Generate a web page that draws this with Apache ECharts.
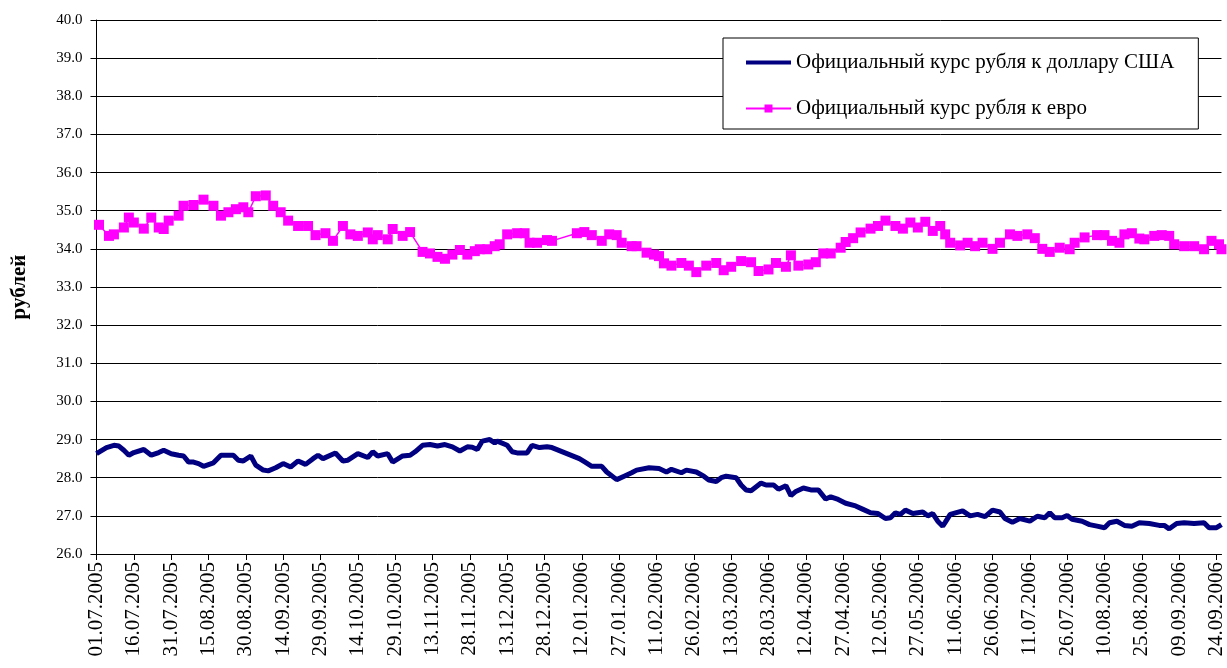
<!DOCTYPE html>
<html>
<head>
<meta charset="utf-8">
<title>Курс рубля</title>
<script src="https://cdn.jsdelivr.net/npm/echarts@6/dist/echarts.min.js"></script>
<style>
  html, body { margin: 0; padding: 0; background: #fff; }
  #chart { width: 1227px; height: 668px; }
</style>
</head>
<body>
<div id="chart"></div>
<script>
// date range of the x axis (daily categories)
const startDate = '01.07.2005'
const endDate = '26.09.2006'

const usdName = 'Официальный курс рубля к доллару США'
const eurName = 'Официальный курс рубля к евро'

// USD
const usdDates = [
  '01.07.2005', '05.07.2005', '08.07.2005', '10.07.2005', '12.07.2005', '14.07.2005', '16.07.2005', '20.07.2005',
  '23.07.2005', '26.07.2005', '28.07.2005', '31.07.2005', '03.08.2005', '05.08.2005', '07.08.2005', '09.08.2005',
  '11.08.2005', '13.08.2005', '17.08.2005', '20.08.2005', '25.08.2005', '27.08.2005', '29.08.2005', '01.09.2005',
  '03.09.2005', '06.09.2005', '08.09.2005', '11.09.2005', '14.09.2005', '17.09.2005', '20.09.2005', '23.09.2005',
  '26.09.2005', '28.09.2005', '30.09.2005', '05.10.2005', '08.10.2005', '10.10.2005', '14.10.2005', '18.10.2005',
  '20.10.2005', '22.10.2005', '26.10.2005', '28.10.2005', '01.11.2005', '04.11.2005', '06.11.2005', '09.11.2005',
  '12.11.2005', '15.11.2005', '18.11.2005', '21.11.2005', '24.11.2005', '27.11.2005', '29.11.2005', '01.12.2005',
  '03.12.2005', '06.12.2005', '08.12.2005', '09.12.2005', '13.12.2005', '15.12.2005', '17.12.2005', '21.12.2005',
  '23.12.2005', '26.12.2005', '29.12.2005', '31.12.2005', '11.01.2006', '13.01.2006', '16.01.2006', '20.01.2006',
  '22.01.2006', '26.01.2006', '29.01.2006', '01.02.2006', '03.02.2006', '08.02.2006', '12.02.2006', '15.02.2006',
  '17.02.2006', '21.02.2006', '23.02.2006', '27.02.2006', '02.03.2006', '04.03.2006', '07.03.2006', '09.03.2006',
  '11.03.2006', '15.03.2006', '17.03.2006', '19.03.2006', '21.03.2006', '25.03.2006', '27.03.2006', '30.03.2006',
  '01.04.2006', '04.04.2006', '06.04.2006', '08.04.2006', '11.04.2006', '14.04.2006', '17.04.2006', '20.04.2006',
  '22.04.2006', '25.04.2006', '28.04.2006', '02.05.2006', '05.05.2006', '08.05.2006', '11.05.2006', '14.05.2006',
  '16.05.2006', '18.05.2006', '20.05.2006', '22.05.2006', '25.05.2006', '29.05.2006', '31.05.2006', '02.06.2006',
  '04.06.2006', '06.06.2006', '07.06.2006', '09.06.2006', '14.06.2006', '17.06.2006', '20.06.2006', '23.06.2006',
  '26.06.2006', '29.06.2006', '01.07.2006', '04.07.2006', '07.07.2006', '11.07.2006', '14.07.2006', '17.07.2006',
  '19.07.2006', '21.07.2006', '24.07.2006', '26.07.2006', '28.07.2006', '01.08.2006', '04.08.2006', '07.08.2006',
  '10.08.2006', '12.08.2006', '15.08.2006', '18.08.2006', '21.08.2006', '24.08.2006', '28.08.2006', '01.09.2006',
  '03.09.2006', '05.09.2006', '08.09.2006', '11.09.2006', '15.09.2006', '19.09.2006', '21.09.2006', '24.09.2006',
  '26.09.2006'
]
const usdValues = [
  28.63, 28.79, 28.85, 28.83, 28.72, 28.59, 28.66, 28.74,
  28.59, 28.66, 28.72, 28.63, 28.59, 28.57, 28.41, 28.41,
  28.37, 28.30, 28.39, 28.59, 28.59, 28.46, 28.44, 28.57,
  28.33, 28.20, 28.18, 28.26, 28.37, 28.28, 28.44, 28.35,
  28.50, 28.59, 28.50, 28.65, 28.44, 28.46, 28.63, 28.53,
  28.68, 28.57, 28.63, 28.41, 28.57, 28.59, 28.68, 28.85,
  28.87, 28.83, 28.87, 28.81, 28.70, 28.81, 28.80, 28.74,
  28.96, 29.00, 28.91, 28.96, 28.85, 28.68, 28.65, 28.65,
  28.85, 28.79, 28.81, 28.79, 28.50, 28.42, 28.30, 28.30,
  28.15, 27.95, 28.04, 28.13, 28.20, 28.26, 28.24, 28.15,
  28.22, 28.13, 28.20, 28.15, 28.04, 27.94, 27.90, 28.00,
  28.04, 28.00, 27.81, 27.68, 27.66, 27.86, 27.81, 27.81,
  27.70, 27.79, 27.53, 27.64, 27.73, 27.68, 27.68, 27.44,
  27.50, 27.43, 27.33, 27.26, 27.17, 27.08, 27.06, 26.93,
  26.95, 27.08, 27.04, 27.15, 27.06, 27.10, 27.00, 27.06,
  26.86, 26.73, 26.83, 27.04, 27.13, 27.00, 27.04, 26.98,
  27.15, 27.10, 26.93, 26.83, 26.93, 26.86, 26.99, 26.95,
  27.08, 26.95, 26.95, 27.01, 26.91, 26.86, 26.77, 26.73,
  26.69, 26.82, 26.86, 26.75, 26.73, 26.82, 26.80, 26.75,
  26.75, 26.66, 26.80, 26.82, 26.80, 26.82, 26.69, 26.69,
  26.77
]

// EUR
const eurDates = [
  '02.07.2005', '06.07.2005', '08.07.2005', '12.07.2005', '14.07.2005', '16.07.2005', '20.07.2005', '23.07.2005',
  '26.07.2005', '28.07.2005', '30.07.2005', '03.08.2005', '05.08.2005', '09.08.2005', '13.08.2005', '17.08.2005',
  '20.08.2005', '23.08.2005', '26.08.2005', '29.08.2005', '31.08.2005', '03.09.2005', '07.09.2005', '10.09.2005',
  '13.09.2005', '16.09.2005', '20.09.2005', '24.09.2005', '27.09.2005', '01.10.2005', '04.10.2005', '08.10.2005',
  '11.10.2005', '14.10.2005', '18.10.2005', '20.10.2005', '22.10.2005', '26.10.2005', '28.10.2005', '01.11.2005',
  '04.11.2005', '09.11.2005', '12.11.2005', '15.11.2005', '18.11.2005', '21.11.2005', '24.11.2005', '27.11.2005',
  '30.11.2005', '02.12.2005', '05.12.2005', '08.12.2005', '10.12.2005', '13.12.2005', '17.12.2005', '20.12.2005',
  '22.12.2005', '25.12.2005', '29.12.2005', '31.12.2005', '10.01.2006', '13.01.2006', '16.01.2006', '20.01.2006',
  '23.01.2006', '26.01.2006', '28.01.2006', '01.02.2006', '03.02.2006', '07.02.2006', '10.02.2006', '12.02.2006',
  '14.02.2006', '17.02.2006', '21.02.2006', '24.02.2006', '27.02.2006', '03.03.2006', '07.03.2006', '10.03.2006',
  '13.03.2006', '17.03.2006', '21.03.2006', '24.03.2006', '28.03.2006', '31.03.2006', '04.04.2006', '06.04.2006',
  '09.04.2006', '13.04.2006', '16.04.2006', '19.04.2006', '22.04.2006', '26.04.2006', '28.04.2006', '01.05.2006',
  '04.05.2006', '08.05.2006', '11.05.2006', '14.05.2006', '18.05.2006', '21.05.2006', '24.05.2006', '27.05.2006',
  '30.05.2006', '02.06.2006', '05.06.2006', '07.06.2006', '09.06.2006', '13.06.2006', '16.06.2006', '19.06.2006',
  '22.06.2006', '26.06.2006', '29.06.2006', '03.07.2006', '06.07.2006', '10.07.2006', '13.07.2006', '16.07.2006',
  '19.07.2006', '23.07.2006', '27.07.2006', '29.07.2006', '02.08.2006', '07.08.2006', '10.08.2006', '13.08.2006',
  '16.08.2006', '18.08.2006', '21.08.2006', '24.08.2006', '26.08.2006', '30.08.2006', '02.09.2006', '05.09.2006',
  '07.09.2006', '11.09.2006', '15.09.2006', '19.09.2006', '22.09.2006', '25.09.2006', '26.09.2006'
]
const eurValues = [
  34.63, 34.34, 34.38, 34.56, 34.82, 34.69, 34.53, 34.82,
  34.56, 34.52, 34.74, 34.87, 35.13, 35.15, 35.29, 35.13,
  34.87, 34.96, 35.04, 35.09, 34.96, 35.38, 35.40, 35.13,
  34.96, 34.74, 34.60, 34.60, 34.36, 34.41, 34.21, 34.60,
  34.38, 34.34, 34.43, 34.25, 34.36, 34.25, 34.52, 34.34,
  34.44, 33.92, 33.88, 33.79, 33.74, 33.85, 33.97, 33.85,
  33.94, 33.99, 33.99, 34.07, 34.12, 34.38, 34.41, 34.41,
  34.16, 34.16, 34.23, 34.21, 34.41, 34.44, 34.36, 34.21,
  34.38, 34.36, 34.16, 34.07, 34.07, 33.90, 33.85, 33.81,
  33.62, 33.56, 33.63, 33.56, 33.39, 33.56, 33.63, 33.44,
  33.53, 33.68, 33.65, 33.42, 33.46, 33.63, 33.53, 33.83,
  33.56, 33.59, 33.65, 33.88, 33.88, 34.03, 34.18, 34.28,
  34.43, 34.53, 34.60, 34.74, 34.60, 34.53, 34.69, 34.56,
  34.71, 34.47, 34.60, 34.38, 34.16, 34.09, 34.16, 34.07,
  34.16, 34.00, 34.16, 34.38, 34.34, 34.38, 34.28, 34.00,
  33.92, 34.03, 33.99, 34.16, 34.30, 34.36, 34.36, 34.21,
  34.16, 34.38, 34.41, 34.27, 34.25, 34.34, 34.36, 34.34,
  34.12, 34.07, 34.07, 33.99, 34.21, 34.12, 33.99
]

// build the daily category list
function parseDate (s) {
  const p = s.split('.')
  return Date.UTC(+p[2], +p[1] - 1, +p[0])
}
function fmtDate (t) {
  const d = new Date(t)
  const dd = String(d.getUTCDate()).padStart(2, '0')
  const mm = String(d.getUTCMonth() + 1).padStart(2, '0')
  return dd + '.' + mm + '.' + d.getUTCFullYear()
}
const days = []
for (let t = parseDate(startDate); t <= parseDate(endDate); t += 86400000) {
  days.push(fmtDate(t))
}

// put values onto the daily axis, empty days stay null
function toDaily (dates, values) {
  const out = days.map(() => null)
  dates.forEach((d, i) => {
    const idx = days.indexOf(d)
    if (idx >= 0) out[idx] = values[i]
  })
  return out
}

const serif = '"Liberation Serif", "DejaVu Serif", serif'
const chart = echarts.init(document.getElementById('chart'))

const option = {
  animation: false,
  backgroundColor: '#fff',
  textStyle: { fontFamily: serif, color: '#000' },
  grid: {
    left: 96.5,
    right: 0,
    top: 20,
    bottom: 114
  },
  legend: {
    orient: 'vertical',
    left: 723,
    top: 38,
    backgroundColor: '#fff',
    borderColor: '#000',
    borderWidth: 1,
    padding: [14, 24, 10, 22],
    itemWidth: 45,
    itemHeight: 10,
    itemGap: 25,
    textStyle: { fontFamily: serif, fontSize: 21, color: '#000' },
    data: [
      // thick navy bar for the usd line sample
      { name: usdName, icon: 'path://M0,0 L45,0 L45,4 L0,4 Z', itemStyle: { color: '#000080' } },
      { name: eurName }
    ]
  },
  xAxis: {
    type: 'category',
    data: days,
    boundaryGap: false,
    axisLine: { lineStyle: { color: '#000', width: 1 } },
    axisTick: { show: true, interval: 14, length: 6, lineStyle: { color: '#000' } },
    axisLabel: {
      interval: 14,
      rotate: 90,
      margin: 8,
      fontFamily: serif,
      fontSize: 21,
      color: '#000'
    },
    splitLine: { show: false }
  },
  yAxis: {
    type: 'value',
    min: 26,
    max: 40,
    interval: 1,
    name: 'рублей',
    nameLocation: 'middle',
    nameRotate: 90,
    nameGap: 66,
    nameTextStyle: { fontFamily: serif, fontSize: 21, fontWeight: 'bold', color: '#000' },
    axisLine: { show: true, lineStyle: { color: '#000', width: 1 } },
    axisTick: { show: true, length: 6, lineStyle: { color: '#000' } },
    axisLabel: {
      margin: 14,
      fontFamily: serif,
      fontSize: 15,
      color: '#000',
      formatter: (v) => v.toFixed(1)
    },
    splitLine: { lineStyle: { color: '#000', width: 1 } }
  },
  series: [
    {
      name: usdName,
      type: 'line',
      data: toDaily(usdDates, usdValues),
      connectNulls: true,
      showSymbol: false,
      symbol: 'none',
      lineStyle: { color: '#000080', width: 5 },
      itemStyle: { color: '#000080' },
      z: 3
    },
    {
      name: eurName,
      type: 'line',
      data: toDaily(eurDates, eurValues),
      connectNulls: true,
      symbol: 'rect',
      symbolSize: 10,
      showAllSymbol: true,
      lineStyle: { color: '#ff00ff', width: 1.5 },
      itemStyle: { color: '#ff00ff' },
      z: 2
    }
  ]
}

chart.setOption(option)
</script>
</body>
</html>
